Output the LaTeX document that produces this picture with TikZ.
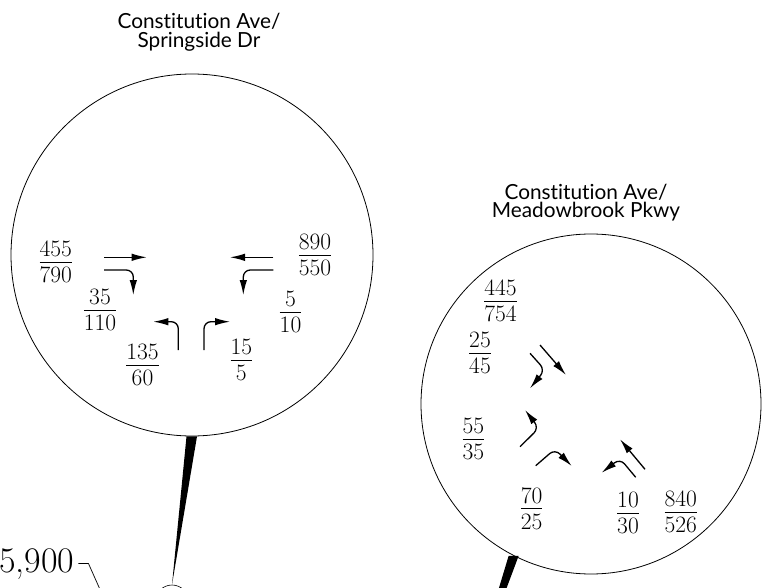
\documentclass[tikz,border=0pt]{standalone}
\usepackage{fontspec}
\newfontfamily\ttlfont[Ligatures=NoCommon]{Lato}
\usetikzlibrary{arrows.meta}
% turning volume as am/pm fraction
\newcommand{\vol}[2]{\vbox{\offinterlineskip\halign{\hfil##\hfil\cr #1\cr
  \noalign{\kern4.5pt\hrule height0.9pt\kern4.3pt}#2\cr}}}

\begin{document}
\begin{tikzpicture}[x=1pt,y=-1pt,
  circ/.style={draw,circle,line width=0.8pt,inner sep=0pt},
  ttl/.style={align=center,font=\ttlfont\fontsize{20.8}{18.8}\selectfont,inner sep=0pt},
  vol/.style={inner sep=0pt,font=\fontsize{23.5}{27}\selectfont},
  arr/.style={-{Latex[length=15pt,width=7.5pt]},line width=1.3pt,rounded corners=7pt},
  wedge/.style={fill=black}]
\clip (0,0) rectangle (771,588);
% intersection circles
\node[circ,minimum size=362pt] (cspr) at (192,255) {};
\node[circ,minimum size=340pt] (cmdw) at (591,404) {};
\node[circ,minimum size=33pt,line width=0.6pt] (hub) at (172,601.5) {};
\coordinate (mtip) at (467,694);
\fill[wedge] ([xshift=-5.5pt]cspr.south) -- ([xshift=5pt]cspr.south) -- (hub.north) -- cycle;
\fill[wedge] ([xshift=-5pt]cmdw.-117) -- ([xshift=5pt]cmdw.-117) -- (mtip) -- cycle;
\node[ttl,anchor=base] (tspr) at (199,47.5) {Constitution Ave/\\Springside Dr};
\node[ttl,anchor=base] (tmdw) at (586,218) {Constitution Ave/\\Meadowbrook Pkwy};
% Springside Dr movements
\draw[arr] (104,257.3) -- (146.7,257.3);
\draw[arr] (104,270) -- (133.3,270) -- (133.3,295);
\draw[arr] (273.3,257.3) -- (230,257.3);
\draw[arr] (273.3,270) -- (243.3,270) -- (243.3,295);
\draw[arr] (178.3,350) -- (178.3,321.7) -- (153.3,321.7);
\draw[arr] (204,350) -- (204,321.7) -- (230,321.7);
\node[vol] (ebt) at (55.7,262) {\vol{455}{790}};
\node[vol] (ebr) at (100,310) {\vol{35}{110}};
\node[vol] (wbt) at (315,255) {\vol{890}{550}};
\node[vol] (wbl) at (290.5,312) {\vol{5}{10}};
\node[vol] (nbl) at (142.5,365) {\vol{135}{60}};
\node[vol] (nbr) at (241.3,360) {\vol{15}{5}};
% Meadowbrook Pkwy movements
\draw[arr] (540,345) -- (566,375);
\draw[arr] (530,353.3) -- (545,370) -- (530,388.3);
\draw[arr] (520,446.7) -- (539,428) -- (525,410);
\draw[arr] (535.7,465.7) -- (555,449) -- (571.7,466);
\draw[arr] (635.7,477.3) -- (620,458.5) -- (601.7,472.7);
\draw[arr] (645,469.3) -- (620,439.3);
\node[vol] (sbt) at (500.5,301) {\vol{445}{754}};
\node[vol] (sbr) at (480,353) {\vol{25}{45}};
\node[vol] (ebl) at (473.3,439) {\vol{55}{35}};
\node[vol] (ebr2) at (531.7,508.5) {\vol{70}{25}};
\node[vol] (nbl2) at (628,513) {\vol{10}{30}};
\node[vol] (nbt) at (680.8,512) {\vol{840}{526}};
% daily volume
\node[anchor=base west,inner sep=0pt,font=\fontsize{36}{39}\selectfont] (v5900) at (-1,572) {5,900};
\draw[line width=0.7pt] ([xshift=4pt]v5900.east) -- ++(10,0) -- ++(12,27);
\end{tikzpicture}
\end{document}
